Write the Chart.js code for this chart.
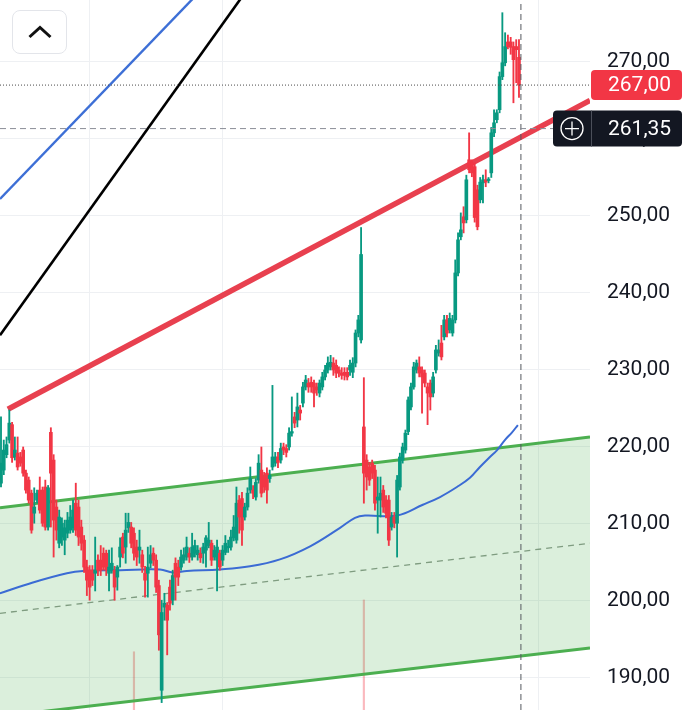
<!DOCTYPE html>
<html>
<head>
<meta charset="utf-8">
<script src="https://cdn.jsdelivr.net/npm/chart.js@4.4.1/dist/chart.umd.min.js"></script>
<style>
  html, body { margin: 0; padding: 0; background: #fff; }
  #wrap { position: relative; width: 690px; height: 710px; overflow: hidden; }
  #up-btn {
    position: absolute; left: 12px; top: 10px; width: 55px; height: 44px;
    box-sizing: border-box; border: 1px solid #e3e5ea; border-radius: 8px; background: #fff;
    display: flex; align-items: center; justify-content: center;
  }
</style>
</head>
<body>
<div id="wrap">
  <canvas id="chart" width="690" height="710"></canvas>
  <div id="up-btn">
    <svg width="24" height="14" viewBox="0 0 24 14"><polyline points="1.5,12 12,2.5 22.5,12" fill="none" stroke="#111" stroke-width="3"/></svg>
  </div>
</div>
<script>
// ---- Candles (one per bar, left to right) ----
const candleOpen = [
  215.3, 217.0, 219.0, 220.9, 222.9, 218.7, 219.2, 218.7, 219.6, 216.6,
  215.7, 214.0, 211.4, 213.1, 214.4, 214.4, 214.8, 209.6, 221.9, 218.3,
  212.2, 207.5, 208.3, 207.9, 208.8, 209.2, 209.5, 212.7, 212.2, 209.6,
  207.9, 204.4, 204.0, 204.0, 203.6, 205.3, 205.3, 206.2, 206.2, 203.6,
  204.0, 204.0, 203.1, 205.7, 208.3, 207.0, 209.5, 209.6, 208.8, 207.0,
  206.6, 206.0, 203.6, 203.6, 204.9, 206.2, 205.3, 202.0, 188.4, 199.2,
  199.5, 201.8, 200.1, 204.9, 204.4, 204.4, 205.3, 205.7, 206.2, 205.7,
  206.2, 206.0, 206.2, 206.2, 206.6, 207.2, 207.5, 205.7, 205.3, 206.2,
  205.3, 206.3, 206.9, 207.0, 208.2, 207.9, 213.1, 213.3, 210.9, 212.2,
  214.4, 214.4, 213.5, 215.7, 217.0, 216.1, 216.6, 215.9, 217.4, 217.9,
  218.7, 218.3, 220.0, 219.8, 220.0, 221.8, 223.9, 223.5, 224.8, 225.7,
  227.8, 228.3, 228.4, 228.3, 227.8, 227.0, 227.8, 229.1, 230.0, 230.4,
  230.9, 230.6, 230.0, 229.6, 229.7, 229.7, 230.0, 229.7, 230.9, 234.8,
  233.9, 222.6, 218.3, 217.4, 217.9, 217.0, 213.1, 213.1, 214.4, 213.1,
  213.1, 209.6, 210.9, 210.1, 214.8, 218.3, 219.6, 222.0, 225.2, 227.8,
  230.0, 230.4, 230.0, 229.6, 227.8, 228.3, 227.0, 230.0, 232.2, 233.5,
  234.3, 236.5, 235.2, 234.8, 236.5, 242.6, 247.3, 249.9, 249.5, 257.3,
  256.9, 256.4, 253.4, 252.1, 254.3, 254.7, 254.6, 255.6, 260.8, 262.5,
  263.8, 268.1, 269.9, 272.6, 272.6, 272.0, 272.0, 270.6
];
const candleHigh = [
  223.9, 220.9, 221.3, 224.8, 223.2, 221.3, 221.3, 219.3, 220.0, 217.0,
  216.1, 214.4, 214.7, 214.4, 216.1, 214.8, 215.7, 215.0, 222.5, 219.0,
  213.1, 211.8, 210.8, 210.5, 211.5, 212.4, 213.1, 215.3, 213.1, 210.5,
  208.5, 205.3, 204.6, 204.6, 208.3, 206.0, 207.2, 206.9, 206.6, 206.6,
  206.9, 204.5, 204.6, 208.2, 208.8, 211.4, 211.4, 210.2, 209.5, 207.9,
  209.2, 206.6, 204.5, 207.0, 207.2, 206.9, 206.0, 202.7, 200.1, 201.0,
  199.8, 202.7, 204.0, 205.6, 205.3, 206.6, 206.9, 208.3, 206.9, 208.8,
  207.9, 207.2, 206.9, 207.5, 208.5, 210.2, 207.9, 207.2, 207.9, 206.6,
  207.2, 208.5, 207.9, 209.2, 211.1, 214.8, 213.7, 214.1, 212.7, 214.7,
  217.4, 215.0, 215.9, 219.0, 220.0, 216.7, 217.3, 217.0, 228.0, 219.3,
  219.3, 220.5, 220.5, 220.3, 222.5, 226.5, 224.5, 227.0, 225.4, 228.4,
  229.3, 228.9, 229.1, 228.7, 228.3, 228.7, 229.7, 230.6, 231.7, 231.9,
  231.6, 231.3, 230.4, 230.3, 230.3, 230.3, 231.3, 231.6, 235.2, 237.1,
  248.5, 229.0, 219.0, 218.0, 218.3, 217.6, 216.1, 216.1, 215.0, 213.7,
  213.7, 211.5, 211.5, 216.3, 219.2, 220.5, 222.2, 226.5, 228.3, 231.0,
  231.3, 231.7, 230.4, 230.0, 228.3, 228.7, 229.7, 233.2, 233.9, 235.8,
  237.1, 237.1, 237.4, 237.1, 244.3, 247.8, 250.4, 251.2, 255.3, 260.8,
  257.3, 256.9, 254.0, 255.0, 255.3, 256.0, 255.0, 261.5, 263.8, 263.8,
  268.7, 276.4, 273.8, 273.5, 273.2, 272.6, 272.9, 272.9
];
const candleLow = [
  214.8, 216.4, 218.6, 220.5, 218.0, 218.3, 217.0, 217.5, 216.2, 214.0,
  212.7, 208.8, 210.1, 212.7, 211.4, 209.7, 209.2, 209.2, 209.6, 205.7,
  207.9, 206.9, 207.2, 206.0, 208.2, 208.8, 208.9, 208.5, 207.2, 206.6,
  203.7, 200.7, 200.1, 202.0, 201.3, 203.3, 203.3, 204.0, 203.3, 201.3,
  203.6, 200.1, 201.4, 204.4, 205.6, 204.9, 208.9, 206.9, 205.3, 204.6,
  204.9, 203.7, 200.5, 200.5, 204.3, 204.6, 201.1, 193.6, 186.8, 197.5,
  193.0, 198.8, 199.5, 200.1, 202.0, 204.0, 204.9, 205.3, 205.0, 205.3,
  205.7, 205.3, 205.0, 204.9, 204.4, 206.9, 204.6, 205.3, 201.3, 204.0,
  204.6, 206.0, 206.3, 206.6, 207.8, 207.5, 208.8, 207.2, 210.5, 211.8,
  214.0, 213.3, 213.1, 215.3, 213.5, 214.1, 212.7, 215.4, 217.0, 217.5,
  217.3, 217.9, 219.0, 218.7, 219.6, 221.4, 222.5, 222.6, 223.5, 225.2,
  227.4, 227.1, 227.1, 225.2, 226.7, 226.5, 227.4, 228.7, 229.6, 230.0,
  229.3, 229.0, 229.1, 228.8, 228.7, 228.7, 229.3, 229.0, 230.4, 234.3,
  233.5, 212.7, 214.4, 215.0, 215.9, 211.8, 208.8, 210.9, 211.5, 210.8,
  207.2, 209.2, 209.5, 205.7, 214.4, 217.9, 219.2, 221.6, 224.8, 227.5,
  229.6, 229.1, 224.4, 227.8, 222.9, 224.8, 226.5, 229.6, 231.8, 231.3,
  233.9, 234.3, 234.8, 234.4, 236.1, 242.2, 246.9, 247.8, 249.1, 255.6,
  255.1, 249.2, 248.2, 251.7, 251.7, 253.8, 254.3, 255.0, 260.3, 262.1,
  263.4, 267.7, 269.5, 271.7, 271.0, 264.7, 267.3, 265.4
];
const candleClose = [
  217.9, 219.6, 220.3, 223.1, 218.6, 219.6, 217.4, 217.9, 216.6, 214.4,
  213.1, 209.2, 212.2, 214.0, 211.8, 210.1, 209.6, 214.7, 216.6, 210.5,
  209.2, 210.9, 210.1, 209.5, 210.5, 210.9, 211.8, 209.2, 208.3, 207.5,
  204.4, 202.7, 201.8, 202.7, 204.0, 204.0, 204.0, 204.4, 204.0, 204.4,
  204.9, 201.8, 204.4, 207.0, 206.2, 209.2, 210.2, 207.5, 206.2, 205.7,
  207.0, 204.4, 202.7, 204.4, 206.0, 205.3, 201.8, 195.6, 198.5, 199.7,
  197.5, 199.7, 203.3, 203.1, 203.1, 205.7, 206.0, 207.0, 205.7, 207.0,
  207.2, 206.6, 205.6, 207.0, 208.2, 207.9, 205.3, 206.6, 207.0, 204.4,
  206.6, 207.5, 207.0, 208.3, 209.6, 212.7, 210.9, 209.2, 212.2, 214.0,
  215.9, 214.0, 215.4, 217.9, 214.0, 214.8, 214.4, 216.3, 218.7, 218.7,
  218.0, 219.8, 219.6, 219.3, 221.8, 221.9, 223.1, 225.2, 224.4, 227.8,
  228.7, 227.8, 227.8, 227.0, 227.4, 228.3, 229.1, 230.0, 230.9, 231.0,
  230.0, 229.6, 229.6, 229.3, 229.3, 229.1, 230.6, 230.9, 234.8, 236.5,
  245.0, 216.6, 216.1, 215.7, 216.6, 212.7, 213.5, 214.0, 212.2, 211.4,
  207.9, 210.9, 210.1, 215.7, 218.7, 220.0, 221.8, 226.1, 227.8, 230.4,
  230.9, 229.6, 229.1, 228.3, 227.0, 226.5, 229.1, 232.6, 232.6, 231.7,
  236.5, 234.8, 236.7, 236.5, 242.6, 246.9, 248.2, 249.1, 254.7, 256.0,
  255.6, 249.8, 248.6, 254.4, 254.7, 254.4, 254.7, 260.8, 262.1, 263.4,
  268.1, 269.9, 272.0, 272.0, 271.9, 270.3, 271.6, 267.0
];

// ---- Volume spikes (bar index, relative volume) ----
const volumeIndex = [48, 131];
const volumeValue = [8.2, 15.5];

// ---- Moving average (bar index, price) ----
const maIndex = [-0.4, 11.5, 23.8, 29.6, 43.0, 57.4, 62.1, 67.1, 79.1, 89.9, 100.7, 111.6, 122.4,
  127.8, 131.4, 143.0, 152.3, 158.5, 164.6, 169.3, 172.9, 176.5, 179.1, 181.9, 184.5, 186.6];
const maValue = [201.0, 202.4, 203.6, 203.9, 204.0, 204.1, 203.7, 203.9, 204.1, 204.5, 205.4, 207.1, 209.5,
  210.8, 211.1, 211.1, 212.5, 213.5, 214.8, 216.0, 217.4, 218.7, 219.6, 220.9, 221.9, 222.85];

// ---- Drawn lines: [bar index, price] end points ----
const redTrend = [[2.5, 224.9], [212.64, 265.0]];
const blueTrend = [[-0.36, 252.2], [86.6, 284.7]];
const blackTrend = [[-0.36, 234.5], [100.7, 285.35]];
const channelTop = [[-0.36, 212.1], [212.64, 221.3]];
const channelMid = [[-0.36, 198.4], [212.64, 207.5]];
const channelBottom = [[-0.36, 185.0], [212.64, 193.9]];

// ---- Axes ----
const priceTicks = [190, 200, 210, 220, 230, 240, 250, 260, 270];
const timeGrid = [31.8, 79.8, 193.9];
const xMin = -0.361, xMax = 212.64;
const yMin = 185.84, yMax = 278.05;

const lastPrice = 267.0;
const crossPrice = 261.35;
const crossIndex = 187.7;

const UP = '#089981';
const DOWN = '#f23645';

const fmt = (v) => v.toFixed(2).replace('.', ',');
const pts = (arr) => arr.map(([x, y]) => ({ x, y }));
const bars = candleOpen.map((_, i) => i);
const colors = bars.map((i) => (candleClose[i] >= candleOpen[i] ? UP : DOWN));

function lineSet(data, color, width, order, extra = {}) {
  return {
    type: 'line',
    data,
    borderColor: color,
    borderWidth: width,
    pointRadius: 0,
    fill: false,
    tension: 0,
    order,
    ...extra,
  };
}

// Price tags on the right axis
const priceTags = {
  id: 'priceTags',
  afterDraw(chart) {
    const { ctx, chartArea } = chart;
    const y = chart.scales.y;
    const left = chartArea.right;
    const yl = y.getPixelForValue(lastPrice);
    const yc = y.getPixelForValue(crossPrice);
    ctx.save();
    ctx.font = '21px Roboto';
    ctx.textBaseline = 'middle';
    ctx.textAlign = 'left';

    ctx.fillStyle = '#f23645';
    ctx.beginPath();
    ctx.roundRect(left + 1, yl - 15, 91, 30, 4);
    ctx.fill();
    ctx.fillStyle = '#ffffff';
    ctx.fillText(fmt(lastPrice), left + 18, yl + 1);

    ctx.fillStyle = '#131722';
    ctx.beginPath();
    ctx.roundRect(left - 37, yc - 18, 129, 36, 4);
    ctx.fill();
    ctx.strokeStyle = '#4b4f5a';
    ctx.lineWidth = 1;
    ctx.beginPath();
    ctx.moveTo(left + 1.5, yc - 18);
    ctx.lineTo(left + 1.5, yc + 18);
    ctx.stroke();
    ctx.strokeStyle = '#ffffff';
    ctx.lineWidth = 1.3;
    ctx.beginPath();
    ctx.arc(left - 18, yc, 11, 0, Math.PI * 2);
    ctx.moveTo(left - 25, yc);
    ctx.lineTo(left - 11, yc);
    ctx.moveTo(left - 18, yc - 7);
    ctx.lineTo(left - 18, yc + 7);
    ctx.stroke();
    ctx.fillStyle = '#ffffff';
    ctx.fillText(fmt(crossPrice), left + 18, yc + 1);
    ctx.restore();
  },
};

new Chart(document.getElementById('chart'), {
  type: 'bar',
  data: {
    datasets: [
      // crosshair and last price lines
      lineSet([{ x: xMin, y: lastPrice }, { x: xMax, y: lastPrice }], '#4a4a4a', 1, 0, { borderDash: [1, 2] }),
      lineSet([{ x: xMin, y: crossPrice }, { x: xMax, y: crossPrice }], '#8a8e97', 1, 0, { borderDash: [6, 4] }),
      lineSet([{ x: crossIndex, y: yMin }, { x: crossIndex, y: yMax }], '#55585f', 1, 0, { borderDash: [6, 4] }),
      {
        type: 'bar',
        label: 'bodies',
        data: bars.map((i) => ({ x: i, y: [candleOpen[i], candleClose[i]] })),
        backgroundColor: colors,
        barThickness: 3,
        minBarLength: 1.5,
        grouped: false,
        order: 1,
      },
      {
        type: 'bar',
        label: 'wicks',
        data: bars.map((i) => ({ x: i, y: [candleLow[i], candleHigh[i]] })),
        backgroundColor: colors,
        barThickness: 1.2,
        grouped: false,
        order: 2,
      },
      lineSet(pts(redTrend), '#e8404f', 5.5, 3),
      lineSet(maIndex.map((x, i) => ({ x, y: maValue[i] })), '#3b6bd4', 2, 4, { tension: 0.4 }),
      lineSet(pts(blueTrend), '#3d6fd6', 2.4, 5),
      lineSet(pts(blackTrend), '#000000', 2.6, 5),
      lineSet(pts(channelMid), '#7f9c80', 1.3, 6, { borderDash: [6, 5] }),
      lineSet(pts(channelBottom), '#4caf50', 3, 6),
      lineSet(pts(channelTop), '#4caf50', 3, 6, {
        fill: { target: 10 },
        backgroundColor: 'rgba(76, 175, 80, 0.2)',
      }),
      {
        type: 'bar',
        label: 'volume',
        data: volumeIndex.map((x, i) => ({ x, y: volumeValue[i] })),
        backgroundColor: 'rgba(242, 54, 69, 0.35)',
        barThickness: 1.5,
        grouped: false,
        yAxisID: 'vol',
        order: 8,
      },
    ],
  },
  options: {
    responsive: false,
    animation: false,
    devicePixelRatio: 1,
    layout: { padding: 0, autoPadding: false },
    plugins: { legend: { display: false }, tooltip: { enabled: false } },
    scales: {
      x: {
        type: 'linear',
        min: xMin,
        max: xMax,
        offset: false,
        afterBuildTicks: (s) => { s.ticks = timeGrid.map((value) => ({ value })); },
        afterFit: (s) => { s.height = 0; s.paddingLeft = 0; s.paddingRight = 0; },
        ticks: { display: false },
        grid: { color: '#eef0f3', drawTicks: false, offset: false },
        border: { display: false },
      },
      y: {
        position: 'right',
        min: yMin,
        max: yMax,
        afterBuildTicks: (s) => { s.ticks = priceTicks.map((value) => ({ value })); },
        afterFit: (s) => { s.width = 100; s.paddingTop = 0; s.paddingBottom = 0; },
        ticks: {
          callback: (v) => fmt(v),
          font: { family: 'Roboto', size: 21 },
          color: '#131722',
          padding: 17,
        },
        grid: { color: '#eef0f3', drawTicks: false },
        border: { display: false },
      },
      vol: { display: false, min: 0, max: 100 },
    },
  },
  plugins: [priceTags],
});
</script>
</body>
</html>
